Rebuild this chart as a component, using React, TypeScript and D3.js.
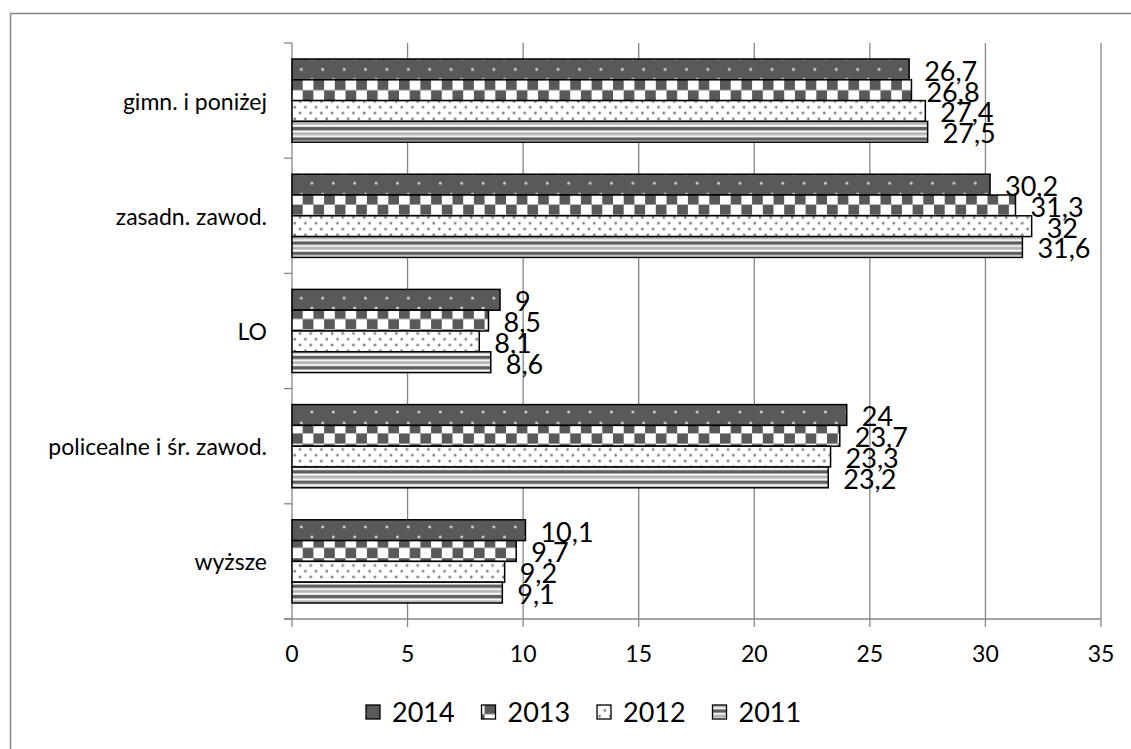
import React from "react";
import { scaleBand, scaleLinear } from "d3";

const width = 1131, height = 749;

const categories = ["gimn. i poniżej", "zasadn. zawod.", "LO", "policealne i śr. zawod.", "wyższe"];
const series = ["2014", "2013", "2012", "2011"];
const values2014 = [26.7, 30.2, 9, 24, 10.1];
const values2013 = [26.8, 31.3, 8.5, 23.7, 9.7];
const values2012 = [27.4, 32, 8.1, 23.3, 9.2];
const values2011 = [27.5, 31.6, 8.6, 23.2, 9.1];
const xTicks = [0, 5, 10, 15, 20, 25, 30, 35];

const seriesValues = [values2014, values2013, values2012, values2011];
const patternIds = ["p2014", "p2013", "p2012", "p2011"];

const font = "Lato, 'Open Sans', sans-serif";
const grid = "#868686";

const fmt = (v: number) => String(v).replace(".", ",");

const App = () => {
  const x = scaleLinear().domain([0, 35]).range([292, 1101]);
  const y = scaleBand().domain(categories).range([43, 619]);
  const inner = scaleBand().domain(series).range([16, y.bandwidth() - 16]);
  const bh = inner.bandwidth();

  const legendX = scaleLinear().domain([0, 1]).range([366, 481.5]);

  return (
    <svg width={width} height={height} style={{ position: "absolute", left: 0, top: 0, background: "#fff" }}>
      <defs>
        <pattern id="p2014" patternUnits="userSpaceOnUse" x={292} y={0} width={21.4} height={20.8}>
          <rect width={21.4} height={20.8} fill="#595959" />
          <circle cx={9.3} cy={6.9} r={1.5} fill="#d0d0d0" />
          <circle cx={19.9} cy={16.9} r={1.5} fill="#d0d0d0" />
        </pattern>
        <pattern id="p2013" patternUnits="userSpaceOnUse" x={292} y={y("gimn. i poniżej")! + 16 + bh} width={21.4} height={bh}>
          <rect width={21.4} height={bh} fill="#fff" />
          <rect x={0} y={0} width={10.7} height={bh / 2} fill="#595959" />
          <rect x={10.7} y={bh / 2} width={10.7} height={bh / 2} fill="#595959" />
        </pattern>
        <pattern id="p2012" patternUnits="userSpaceOnUse" x={292} y={0} width={10.7} height={11.6}>
          <rect width={10.7} height={11.6} fill="#fff" />
          <circle cx={2.7} cy={2.9} r={1.4} fill="#808080" />
          <circle cx={8} cy={8.7} r={1.4} fill="#808080" />
        </pattern>
        <pattern id="p2011" patternUnits="userSpaceOnUse" x={0} y={y("gimn. i poniżej")! + 16 + 3 * bh} width={10} height={bh / 2}>
          <rect width={10} height={bh / 2} fill="#fff" />
          <rect y={0.5} width={10} height={3} fill="#b3b3b3" />
          <rect y={5.5} width={10} height={3.5} fill="#5f5f5f" />
        </pattern>
      </defs>

      <rect x={10.5} y={13.5} width={1300} height={900} fill="#fff" stroke={grid} strokeWidth={1.5} />

      {/* gridlines */}
      {xTicks.map(t => (
        <line key={t} x1={x(t)} x2={x(t)} y1={43} y2={627} stroke={grid} strokeWidth={1.3} />
      ))}
      {/* x axis line */}
      <line x1={284} x2={x(35)} y1={619} y2={619} stroke={grid} strokeWidth={1.3} />
      {/* y axis ticks */}
      {[...categories.map(c => y(c)!), 619].map((v, i) => (
        <line key={i} x1={284} x2={292} y1={v} y2={v} stroke={grid} strokeWidth={1.3} />
      ))}

      {/* bars */}
      {categories.map((c, ci) =>
        series.map((s, si) => {
          const v = seriesValues[si][ci];
          const by = y(c)! + inner(s)!;
          return (
            <g key={c + s}>
              <rect x={x(0)} y={by} width={x(v) - x(0)} height={bh} fill={`url(#${patternIds[si]})`} stroke="#000" strokeWidth={1.5} />
              <text x={x(v) + 15} y={by + bh + 1} fontFamily={font} fontSize={27} fill="#000">{fmt(v)}</text>
            </g>
          );
        })
      )}

      {/* category labels */}
      {categories.map(c => (
        <text key={c} x={267} y={y(c)! + y.bandwidth() / 2} textAnchor="end" dominantBaseline="central" fontFamily={font} fontSize={23} fill="#000">{c}</text>
      ))}

      {/* tick labels */}
      {xTicks.map(t => (
        <text key={t} x={x(t)} y={662} textAnchor="middle" fontFamily={font} fontSize={23} fill="#000">{t}</text>
      ))}

      {/* legend */}
      {series.map((s, i) => (
        <g key={s}>
          <rect x={legendX(i)} y={705} width={14} height={14} fill={`url(#${patternIds[i]})`} stroke="#000" strokeWidth={1.3} />
          <text x={legendX(i) + 26} y={722} fontFamily={font} fontSize={27} fill="#000">{s}</text>
        </g>
      ))}
    </svg>
  );
};

export default App;
